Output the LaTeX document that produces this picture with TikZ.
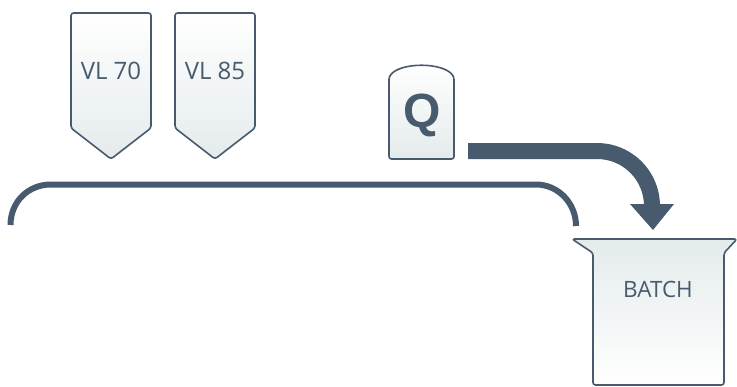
\documentclass[tikz,border=0pt]{standalone}
\usepackage{fontspec}
\setmainfont{Open Sans}
\newfontfamily\qfont{Liberation Sans}
\definecolor{slate}{RGB}{72,91,110}
\definecolor{pale}{RGB}{228,235,235}
\begin{document}
\begin{tikzpicture}[x=1pt,y=-1pt,
  outline/.style={draw=slate,line width=1.6pt,rounded corners=2.5pt,line join=round},
  label/.style={text=slate,font=\fontsize{24}{24}\selectfont,inner sep=0pt},
  blabel/.style={text=slate,font=\fontsize{22.5}{22.5}\selectfont,inner sep=0pt},
  qlabel/.style={text=slate,font=\qfont\fontsize{48}{48}\selectfont\bfseries,inner sep=0pt},
  band/.style={draw=slate,line width=16pt},
  bracket/.style={draw=slate,line width=6pt}]
\useasboundingbox (0,0) rectangle (737,386);
% VL 70
\path[outline,top color=white,bottom color=pale] (71,13) -- (151,13) -- (151,128) -- (111,159) -- (71,128) -- cycle;
\node[label] (vl70) at (111,71) {VL 70};
% VL 85
\path[outline,top color=white,bottom color=pale] (175,13) -- (255,13) -- (255,128) -- (215,159) -- (175,128) -- cycle;
\node[label] (vl85) at (215,71) {VL 85};
% Q
\path[outline,top color=white,bottom color=pale] (389,159) -- (389,77) .. controls (400,62) and (443,62) .. (454,77) -- (454,159) -- cycle;
\node[qlabel] (q) at (422,115) {Q};
% bracket
\coordinate (bl) at (10.5,225);
\coordinate (br) at (576,226);
\draw[bracket] (bl) .. controls (10.5,202) and (28,184.5) .. (51,184.5) -- (536,184.5) .. controls (558,184.5) and (576,203) .. (br);
% BATCH
\path[outline,top color=pale,bottom color=white] (572,239) -- (737,239) -- (724,253) -- (724,385) -- (593,385) -- (593,253) -- cycle;
\node[blabel] (batch) at (658,289) {BATCH};
% arrow
\coordinate (as) at (468,151);
\coordinate (ae) at (652,206);
\draw[band] (as) -- (597,151) .. controls (627.4,151) and (652,175.6) .. (ae);
\fill[slate] (630,204) -- (674,204) -- (653,230) -- cycle;
\end{tikzpicture}
\end{document}
